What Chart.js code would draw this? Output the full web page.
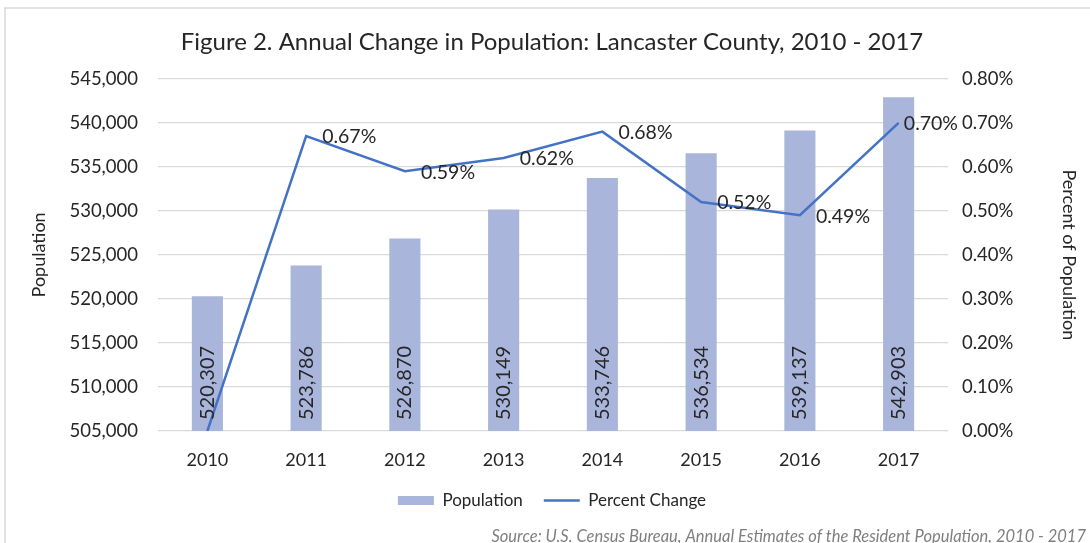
<!DOCTYPE html>
<html>
<head>
<meta charset="utf-8">
<script src="https://cdn.jsdelivr.net/npm/chart.js@4"></script>
<style>
html, body { margin: 0; padding: 0; background: #fff; }
</style>
</head>
<body>
<canvas id="myChart" width="1090" height="543"></canvas>
<script>
var years = ['2010', '2011', '2012', '2013', '2014', '2015', '2016', '2017'];
var population = [520307, 523786, 526870, 530149, 533746, 536534, 539137, 542903];
var percentChange = [0.00, 0.67, 0.59, 0.62, 0.68, 0.52, 0.49, 0.70];
var popTicks = [505000, 510000, 515000, 520000, 525000, 530000, 535000, 540000, 545000];
var pctTicks = [0.0, 0.1, 0.2, 0.3, 0.4, 0.5, 0.6, 0.7, 0.8];

var textColor = '#262626';
var sourceText = 'Source: U.S. Census Bureau, Annual Estimates of the Resident Population, 2010 - 2017';

Chart.defaults.font.family = 'Lato';
Chart.defaults.color = textColor;

// frame round the chart + source line at the bottom
var frame = {
    id: 'frame',
    beforeDraw: function(chart) {
        var ctx = chart.ctx;
        ctx.save();
        ctx.strokeStyle = '#d9d9d9';
        ctx.lineWidth = 1.5;
        ctx.strokeRect(5, 8, 1200, 700);
        ctx.restore();
    },
    afterDraw: function(chart) {
        var ctx = chart.ctx;
        ctx.save();
        ctx.font = 'italic 16.5px Lato';
        ctx.fillStyle = '#7f7f7f';
        ctx.textAlign = 'right';
        ctx.textBaseline = 'middle';
        ctx.fillText(sourceText, 1086, 537);
        ctx.restore();
    }
};

// data labels: rotated population inside bars, percent to the right of points
var valueLabels = {
    id: 'valueLabels',
    afterDatasetsDraw: function(chart) {
        var ctx = chart.ctx;
        var area = chart.chartArea;
        ctx.save();
        ctx.fillStyle = textColor;
        ctx.textBaseline = 'middle';
        ctx.textAlign = 'left';
        ctx.font = '20px Lato';
        chart.getDatasetMeta(0).data.forEach(function(bar, i) {
            var p = bar.getProps(['x'], true);
            ctx.save();
            ctx.translate(p.x, area.bottom - 11);
            ctx.rotate(-Math.PI / 2);
            ctx.fillText(population[i].toLocaleString('en-US'), 0, 0);
            ctx.restore();
        });
        ctx.font = '19.5px Lato';
        chart.getDatasetMeta(1).data.forEach(function(pt, i) {
            if (percentChange[i] === 0) return;
            var txt = percentChange[i].toFixed(2) + '%';
            var w = ctx.measureText(txt).width;
            var x = Math.min(pt.x + 16, area.right + 10 - w);
            ctx.fillText(txt, x, pt.y + 1);
        });
        ctx.restore();
    }
};

var ctx = document.getElementById('myChart').getContext('2d');
var myChart = new Chart(ctx, {
    type: 'bar',
    data: {
        labels: years,
        datasets: [{
            label: 'Population',
            data: population,
            backgroundColor: '#a9b5da',
            borderWidth: 0,
            pointStyle: 'rect',
            barPercentage: 0.315,
            categoryPercentage: 1,
            yAxisID: 'y',
            order: 0
        }, {
            type: 'line',
            label: 'Percent Change',
            data: percentChange,
            borderColor: '#4472c4',
            backgroundColor: '#4472c4',
            borderWidth: 2.5,
            pointRadius: 0,
            pointHoverRadius: 0,
            pointStyle: 'line',
            tension: 0,
            yAxisID: 'y1',
            order: -1
        }]
    },
    options: {
        responsive: false,
        animation: false,
        layout: {
            padding: { left: 14, right: 0, top: 0, bottom: 24 }
        },
        plugins: {
            title: {
                display: true,
                text: 'Figure 2. Annual Change in Population: Lancaster County, 2010 - 2017',
                color: textColor,
                font: { size: 24, weight: 'normal' },
                padding: { top: 28, bottom: 22 }
            },
            legend: {
                position: 'bottom',
                labels: {
                    usePointStyle: true,
                    pointStyleWidth: 36,
                    boxHeight: 9,
                    padding: 21,
                    color: textColor,
                    font: { size: 17 },
                    sort: function(a, b) { return a.datasetIndex - b.datasetIndex; }
                }
            },
            tooltip: { enabled: false }
        },
        scales: {
            x: {
                grid: { display: false },
                border: { display: false },
                ticks: { padding: 10, font: { size: 18 } },
                afterFit: function(scale) { scale.height = 40; }
            },
            y: {
                position: 'left',
                min: popTicks[0],
                max: popTicks[popTicks.length - 1],
                ticks: {
                    stepSize: popTicks[1] - popTicks[0],
                    padding: 20,
                    font: { size: 18.5 },
                    callback: function(v) { return v.toLocaleString('en-US'); }
                },
                grid: { color: '#d9d9d9', lineWidth: 1.3, drawTicks: false },
                border: { display: false },
                title: {
                    display: true,
                    text: 'Population',
                    font: { size: 18 },
                    padding: { top: 14, bottom: 0 }
                },
                afterFit: function(scale) { scale.width = 144; }
            },
            y1: {
                position: 'right',
                min: pctTicks[0],
                max: pctTicks[pctTicks.length - 1],
                ticks: {
                    stepSize: pctTicks[1] - pctTicks[0],
                    padding: 14,
                    font: { size: 18.5 },
                    callback: function(v) { return v.toFixed(2) + '%'; }
                },
                grid: { display: false, drawTicks: false },
                border: { display: false },
                title: {
                    display: true,
                    text: 'Percent of Population',
                    font: { size: 18 },
                    padding: { top: 10, bottom: 0 }
                },
                afterFit: function(scale) { scale.width = 142; }
            }
        }
    },
    plugins: [frame, valueLabels]
});
</script>
</body>
</html>
